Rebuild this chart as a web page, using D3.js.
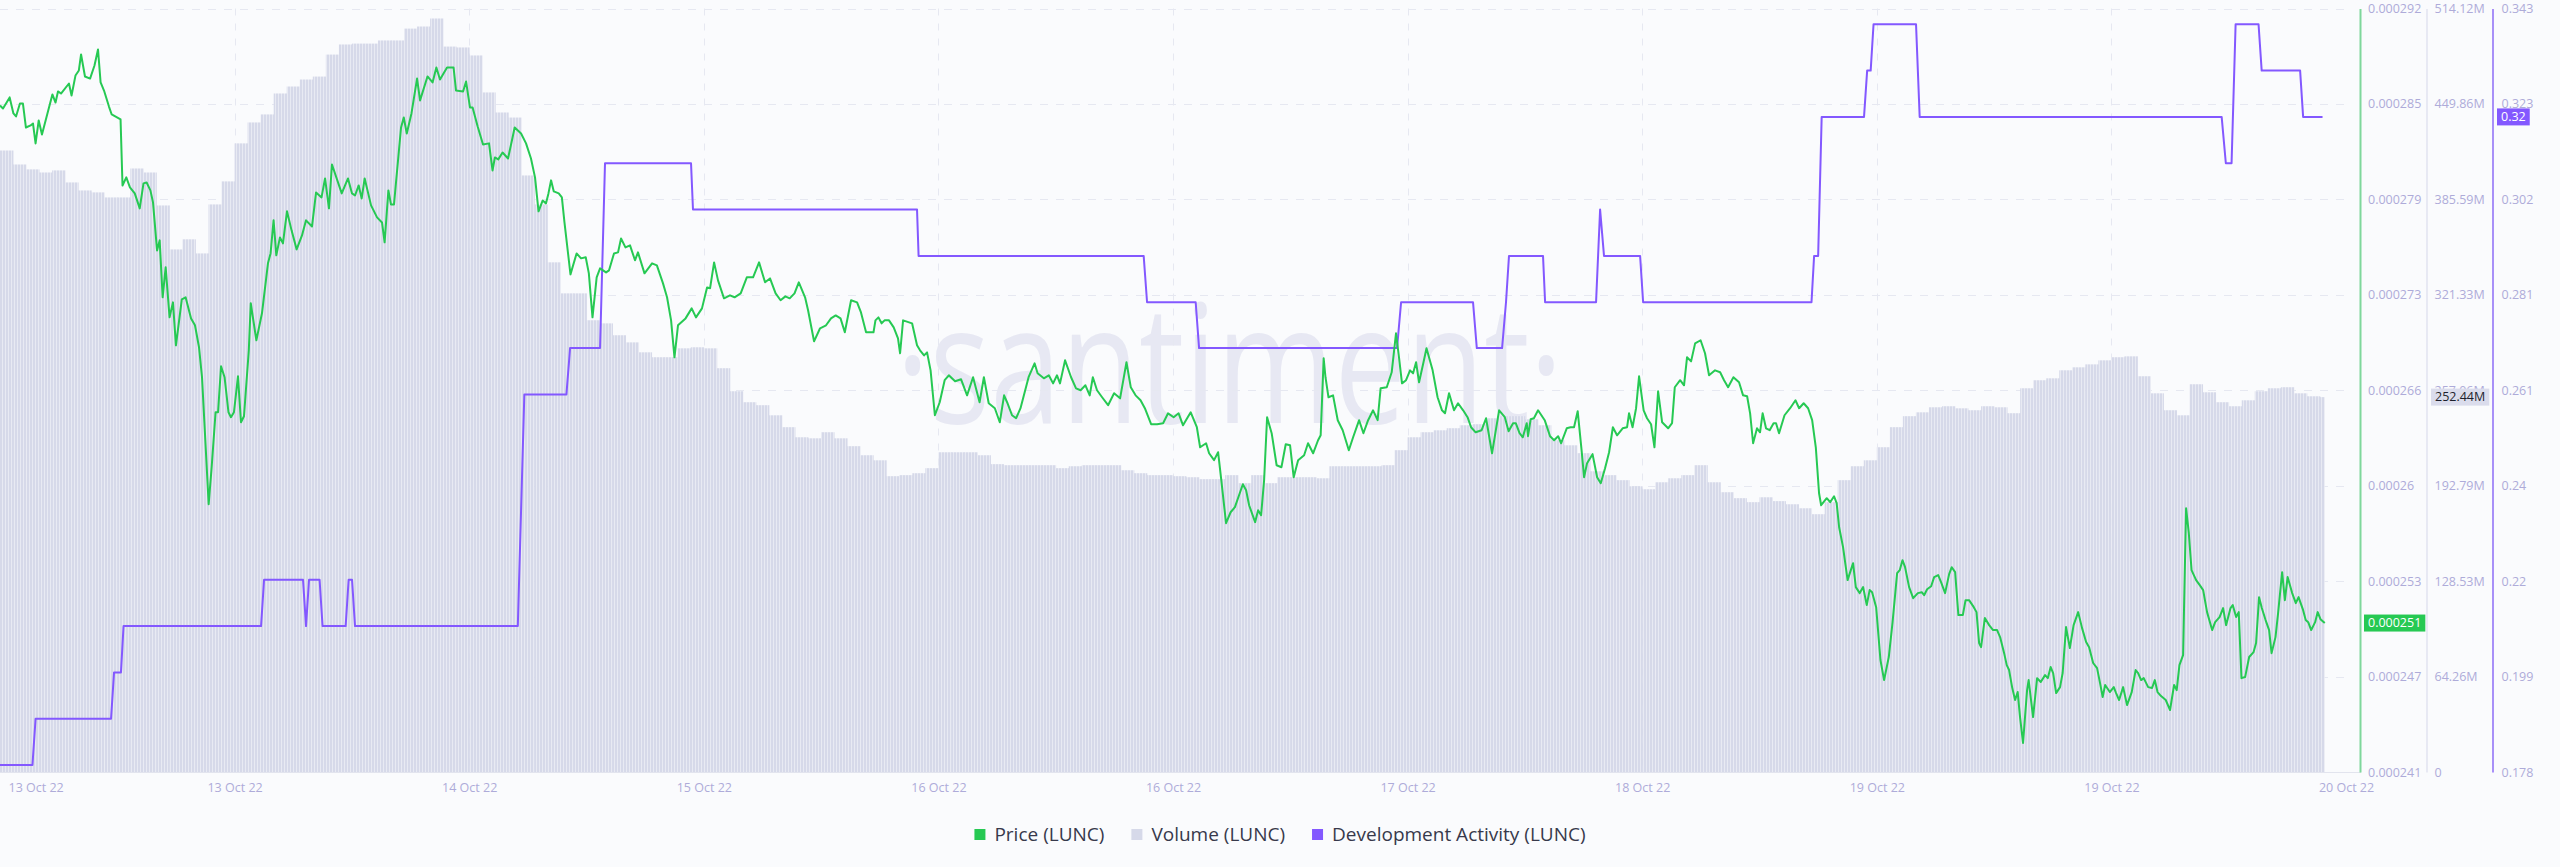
<!DOCTYPE html>
<html>
<head>
<meta charset="utf-8">
<script src="https://cdn.jsdelivr.net/npm/d3@7/dist/d3.min.js"></script>
<style>
  html, body { margin: 0; padding: 0; background: #fafbfd; }
  svg { display: block; }
</style>
</head>
<body>
<svg id="chart" width="2560" height="867"></svg>
<script>
// ---------------- DATA ----------------
// time is expressed in hours since 13 Oct 2022 00:00
const xTickHours  = [0, 18, 36, 54, 72, 90, 108, 126, 144, 162, 180];
const xTickLabels = ["13 Oct 22","13 Oct 22","14 Oct 22","15 Oct 22","16 Oct 22","16 Oct 22","17 Oct 22","18 Oct 22","19 Oct 22","19 Oct 22","20 Oct 22"];

const priceTickLabels  = ["0.000241","0.000247","0.000253","0.00026","0.000266","0.000273","0.000279","0.000285","0.000292"];
const volumeTickLabels = ["0","64.26M","128.53M","192.79M","257.06M","321.33M","385.59M","449.86M","514.12M"];
const devTickLabels    = ["0.178","0.199","0.22","0.24","0.261","0.281","0.302","0.323","0.343"];

const legendLabels = ["Price (LUNC)", "Volume (LUNC)", "Development Activity (LUNC)"];
const lastLabels = { price: "0.000251", volume: "252.44M", dev: "0.32" };

// Volume (LUNC), millions, hourly from hour 0
const volumeStartHour = 0, volumeStepHours = 1;
const volumeMillions = [
418.5,409.1,405.8,403.7,405.1,397.0,391.6,390.3,386.9,386.9,
406.4,403.7,381.5,351.9,358.7,349.2,382.2,397.7,423.3,437.4,
442.8,456.9,461.6,466.3,468.3,483.1,489.9,490.5,490.5,492.6,
492.6,500.6,502.0,507.4,488.5,487.9,482.5,457.6,444.1,440.7,
401.7,382.2,343.2,322.3,322.3,304.2,302.1,294.1,289.3,282.6,
279.3,279.3,285.3,286.0,285.3,271.9,256.4,249.0,247.0,240.2,
232.2,225.4,224.7,228.8,224.7,219.4,213.3,209.9,199.2,199.9,
201.2,204.6,215.3,215.3,215.3,213.3,207.3,206.6,206.6,206.6,
206.6,204.6,205.9,206.6,206.6,206.6,203.2,201.2,199.9,199.9,
199.2,198.5,197.2,197.2,199.9,194.5,199.9,194.5,198.5,198.5,
198.5,197.8,205.9,205.9,205.9,205.9,206.6,216.7,225.4,228.8,
230.1,231.5,233.5,234.2,238.2,239.6,239.6,237.5,233.5,223.4,
220.0,214.7,202.5,199.9,196.5,192.4,190.4,195.1,197.8,199.9,
206.6,195.1,188.4,184.4,181.7,185.0,182.4,180.3,177.6,173.6,
181.7,196.5,205.9,209.9,218.7,232.2,239.6,242.2,245.6,246.3,
244.9,243.6,246.3,245.6,241.6,258.4,263.8,265.1,270.5,272.5,
274.5,277.2,279.3,279.9,266.5,255.0,243.6,240.2,261.1,255.7,
249.0,246.3,250.3,256.4,258.4,259.1,255.0,253.0,252.44
];

// Development Activity (LUNC): [hour, value]
const devPoints = [
[0,0.1799],[2.49,0.1799],[2.73,0.1899],[8.52,0.1899],[8.75,0.1999],[9.28,0.1999],[9.48,0.2099],
[20.03,0.2099],[20.26,0.2199],[23.25,0.2199],[23.48,0.2099],[23.71,0.2199],[24.52,0.2199],[24.75,0.2099],
[26.52,0.2099],[26.75,0.2199],[27.01,0.2199],[27.24,0.2099],[39.73,0.2099],[40.23,0.2599],[43.46,0.2599],
[43.74,0.2699],[46.04,0.2699],[46.42,0.3098],[53.02,0.3098],[53.17,0.2998],[70.36,0.2998],[70.48,0.2898],
[87.75,0.2898],[88.01,0.2798],[91.74,0.2798],[92.00,0.2699],[107.19,0.2699],[107.50,0.2798],[113.02,0.2798],
[113.31,0.2699],[115.25,0.2699],[115.55,0.2798],[115.78,0.2898],[118.39,0.2898],[118.55,0.2798],[122.46,0.2798],
[122.77,0.2998],[123.07,0.2898],[125.84,0.2898],[126.07,0.2798],[138.99,0.2798],[139.19,0.2898],[139.50,0.2898],
[139.77,0.3198],[143.02,0.3198],[143.26,0.3298],[143.53,0.3298],[143.75,0.3398],[147.01,0.3398],[147.29,0.3198],
[170.46,0.3198],[170.78,0.3098],[171.22,0.3098],[171.53,0.3398],[173.29,0.3398],[173.53,0.3298],[176.48,0.3298],
[176.71,0.3198],[178.20,0.3198]
];

// Price (LUNC): [hour, price in millionths of USD]
const pricePoints = [
[0,285.22],[0.23,285.02],[0.74,285.76],[1.03,284.69],[1.23,284.49],[1.53,285.35],[1.76,285.35],[1.99,283.75],
[2.35,283.89],[2.53,284.02],[2.73,282.69],[2.97,284.22],[3.22,283.29],[4.02,285.96],[4.26,285.42],[4.45,286.16],
[4.68,286.02],[5.29,286.69],[5.49,285.89],[5.79,287.22],[6.05,287.56],[6.22,288.63],[6.52,287.16],[6.91,287.02],
[7.25,287.89],[7.52,288.96],[7.72,286.76],[7.98,286.22],[8.36,285.15],[8.57,284.62],[9.25,284.29],[9.40,279.88],
[9.69,280.42],[9.97,279.75],[10.34,279.35],[10.72,278.35],[11.01,280.02],[11.25,280.08],[11.54,279.55],[11.74,278.75],
[12.05,275.54],[12.25,276.21],[12.48,272.41],[12.71,274.41],[13.01,271.07],[13.27,272.07],[13.50,269.20],[13.95,272.27],
[14.24,272.41],[14.66,271.00],[14.96,270.54],[15.27,269.07],[15.50,267.07],[16.01,258.59],[16.24,261.06],[16.54,264.73],
[16.73,264.73],[16.96,267.80],[17.23,267.07],[17.53,264.73],[17.72,264.40],[17.95,264.73],[18.26,267.13],[18.49,264.06],
[18.72,264.46],[19.09,268.87],[19.24,272.01],[19.67,269.54],[20.10,271.34],[20.56,274.68],[20.76,275.34],[20.99,277.55],
[21.20,275.21],[21.48,276.41],[21.71,276.01],[22.02,278.15],[22.37,276.88],[22.76,275.61],[23.17,276.54],[23.48,277.55],
[23.94,277.14],[24.25,279.41],[24.67,279.08],[24.94,280.35],[25.24,278.35],[25.47,281.28],[26.22,279.35],[26.70,280.35],
[27.01,279.35],[27.24,279.21],[27.52,279.88],[27.75,279.01],[27.98,280.35],[28.47,278.55],[28.93,277.75],[29.31,277.41],
[29.51,276.08],[29.80,279.55],[30.00,278.61],[30.23,278.61],[30.77,283.75],[30.98,284.42],[31.21,283.35],[31.57,284.69],
[32.00,287.02],[32.23,285.56],[32.80,287.16],[33.19,286.76],[33.48,287.76],[33.76,286.96],[34.30,287.76],[34.80,287.76],
[34.99,286.22],[35.53,286.16],[35.76,286.82],[36.06,285.09],[36.26,285.09],[36.65,283.82],[37.06,282.62],[37.52,282.69],
[37.79,280.88],[37.97,281.75],[38.23,281.62],[38.56,282.08],[38.98,281.68],[39.49,283.75],[39.98,283.35],[40.36,282.69],
[40.74,281.68],[41.05,280.42],[41.32,278.15],[41.64,278.88],[41.89,278.68],[42.08,279.35],[42.28,280.22],[42.49,279.48],
[42.87,279.35],[43.11,279.08],[43.31,277.41],[43.77,273.94],[44.24,275.34],[44.58,275.01],[44.94,275.08],[45.18,274.01],
[45.46,271.07],[45.78,273.74],[46.04,274.34],[46.50,274.07],[46.73,274.21],[47.11,275.34],[47.42,275.41],[47.65,276.34],
[47.99,275.74],[48.34,275.88],[48.72,274.88],[48.95,275.41],[49.45,274.01],[50.03,274.68],[50.40,274.54],[50.87,273.34],
[51.18,272.41],[51.49,270.87],[51.75,268.40],[52.02,270.54],[52.60,271.00],[53.07,271.67],[53.40,271.07],[53.86,271.67],
[54.25,273.07],[54.48,273.01],[54.79,274.74],[55.09,273.54],[55.55,272.34],[56.01,272.54],[56.36,272.41],[56.83,272.67],
[57.30,273.74],[57.78,273.74],[58.24,274.74],[58.70,273.41],[59.08,273.67],[59.51,272.67],[59.89,272.21],[60.26,272.47],
[60.59,272.34],[60.96,272.67],[61.29,273.41],[61.77,272.41],[62.00,271.54],[62.46,269.47],[62.92,270.34],[63.38,270.54],
[63.76,271.00],[64.12,271.20],[64.49,271.00],[64.82,270.07],[65.30,272.21],[65.76,272.07],[66.06,271.40],[66.45,270.07],
[67.02,270.07],[67.17,270.87],[67.40,271.07],[67.64,270.67],[67.87,270.87],[68.21,270.87],[68.57,270.40],[68.90,269.67],
[69.06,268.67],[69.29,270.87],[69.98,270.67],[70.36,269.20],[70.59,268.87],[70.90,268.53],[71.13,268.73],[71.40,267.53],
[71.73,264.53],[72.10,265.40],[72.48,266.87],[72.80,267.20],[73.28,266.80],[73.74,266.93],[74.20,265.86],[74.66,267.07],
[75.16,265.40],[75.49,267.07],[75.86,265.33],[76.33,265.00],[76.71,264.06],[77.04,265.86],[77.27,265.40],[77.65,264.53],
[77.96,264.33],[78.30,265.00],[78.92,267.07],[79.38,268.00],[79.61,267.33],[80.09,267.00],[80.47,267.20],[80.80,266.66],
[81.10,267.20],[81.33,266.66],[81.72,268.20],[82.18,267.07],[82.56,266.33],[82.91,266.20],[83.28,266.53],[83.61,265.86],
[83.85,267.07],[84.17,266.20],[84.56,265.73],[85.02,265.20],[85.48,266.00],[85.94,265.66],[86.43,268.07],[86.76,266.40],
[87.13,265.86],[87.51,265.53],[87.84,265.00],[88.32,263.93],[88.78,263.93],[89.24,264.00],[89.62,264.66],[90.05,264.40],
[90.43,264.66],[90.77,263.86],[91.13,264.40],[91.36,264.73],[91.83,263.73],[92.08,262.39],[92.54,262.66],[92.77,261.99],
[93.15,261.53],[93.46,262.06],[93.69,260.32],[94.07,257.32],[94.42,258.05],[94.75,258.39],[95.12,259.32],[95.36,259.92],
[95.61,259.52],[95.84,258.52],[96.30,257.39],[96.53,258.19],[96.76,257.85],[96.99,260.19],[97.22,264.40],[97.57,263.33],
[97.95,261.19],[98.32,261.06],[98.65,262.59],[98.98,262.53],[99.26,260.39],[99.60,261.53],[100.06,261.86],[100.36,262.66],
[100.75,261.99],[101.13,262.86],[101.33,263.19],[101.56,268.33],[101.70,267.07],[101.93,265.73],[102.28,265.86],[102.64,264.20],
[103.02,263.53],[103.49,262.19],[103.82,263.06],[104.28,264.20],[104.61,263.33],[104.97,264.20],[105.35,264.86],[105.70,264.20],
[105.93,266.33],[106.40,266.40],[106.78,267.40],[107.11,270.00],[107.34,268.40],[107.57,266.66],[107.88,266.87],[108.19,267.53],
[108.42,267.33],[108.65,268.07],[108.88,266.73],[109.22,268.07],[109.45,269.00],[109.92,267.53],[110.30,265.73],[110.64,264.86],
[110.87,264.66],[111.18,266.00],[111.56,264.86],[111.87,265.33],[112.26,264.86],[112.60,264.40],[112.87,263.73],[113.22,263.39],
[113.68,263.53],[114.02,264.33],[114.48,261.99],[115.02,264.86],[115.46,264.40],[115.75,263.46],[116.09,264.00],[116.30,264.00],
[116.59,263.33],[116.84,263.06],[117.14,264.00],[117.24,263.13],[117.44,264.26],[117.69,264.33],[118.01,264.86],[118.52,264.20],
[118.93,263.13],[119.24,262.86],[119.55,263.13],[119.78,262.66],[120.21,263.66],[120.50,263.73],[120.77,263.73],[121.05,264.80],
[121.35,262.19],[121.54,260.39],[121.77,261.33],[122.19,261.93],[122.54,260.39],[122.82,259.99],[123.15,260.99],[123.46,262.06],
[123.75,263.73],[124.07,263.19],[124.50,263.66],[124.84,263.73],[124.99,264.66],[125.26,263.73],[125.53,265.00],[125.76,267.13],
[126.11,264.86],[126.37,264.33],[126.68,263.93],[126.94,262.39],[127.22,266.13],[127.53,264.06],[127.99,263.66],[128.29,264.00],
[128.50,266.40],[128.91,266.87],[129.21,266.53],[129.44,268.40],[129.75,268.13],[130.06,269.33],[130.48,269.54],[130.82,268.67],
[131.13,267.20],[131.59,267.53],[131.98,267.40],[132.28,266.87],[132.59,266.40],[133.00,267.07],[133.43,266.73],[133.74,265.86],
[134.05,265.80],[134.28,264.66],[134.51,262.66],[134.81,263.66],[135.04,263.39],[135.24,264.66],[135.50,263.66],[135.78,263.53],
[136.08,264.00],[136.27,264.00],[136.50,263.33],[136.92,264.53],[137.35,265.00],[137.76,265.53],[138.04,265.00],[138.39,265.33],
[138.73,265.00],[139.04,264.20],[139.32,262.39],[139.57,259.32],[139.73,258.52],[140.16,258.99],[140.42,258.72],[140.72,259.12],
[140.92,258.66],[141.11,257.05],[141.41,255.72],[141.76,253.52],[142.18,254.65],[142.39,253.05],[142.69,252.65],[142.95,253.05],
[143.23,251.85],[143.45,252.85],[143.64,252.71],[143.95,251.71],[144.28,248.18],[144.56,246.84],[144.92,248.38],[145.21,250.71],
[145.56,253.98],[145.76,254.18],[145.97,254.85],[146.17,254.38],[146.48,253.05],[146.79,252.31],[147.15,252.65],[147.45,252.71],
[147.63,252.51],[147.86,252.91],[148.17,253.11],[148.40,253.72],[148.71,253.85],[148.93,253.38],[149.24,252.65],[149.55,253.92],
[149.75,254.38],[150.01,254.05],[150.26,251.18],[150.60,251.18],[150.81,252.18],[151.08,252.18],[151.44,251.71],[151.65,251.38],
[151.85,249.31],[152.00,249.04],[152.29,250.98],[152.62,250.51],[152.92,250.18],[153.23,250.18],[153.46,249.71],[153.77,248.64],
[153.97,247.84],[154.15,247.51],[154.38,246.37],[154.61,245.51],[154.81,246.04],[154.99,244.37],[155.22,242.64],[155.53,246.17],
[155.65,246.84],[155.99,244.37],[156.30,246.97],[156.58,246.71],[156.91,247.17],[157.12,246.97],[157.34,247.71],[157.53,247.31],
[157.76,245.97],[158.06,246.37],[158.26,247.31],[158.52,250.38],[158.81,248.98],[159.10,250.51],[159.45,251.38],[159.75,250.31],
[160.06,249.38],[160.29,249.04],[160.60,247.98],[160.90,247.64],[161.13,246.64],[161.33,245.71],[161.52,246.51],[161.88,246.04],
[162.18,246.37],[162.36,245.97],[162.59,245.51],[162.90,246.37],[163.20,245.17],[163.56,246.04],[163.86,247.51],[164.05,247.31],
[164.28,246.84],[164.48,246.97],[164.82,246.37],[165.12,246.31],[165.33,246.84],[165.54,246.04],[165.81,245.77],[166.17,245.51],
[166.50,244.84],[166.81,246.51],[167.01,246.17],[167.22,247.84],[167.50,248.51],[167.73,258.32],[167.94,256.65],[168.15,254.18],
[168.50,253.52],[168.78,253.18],[169.04,252.85],[169.34,251.38],[169.73,250.18],[169.96,250.71],[170.30,251.05],[170.57,251.65],
[170.80,250.51],[171.14,251.65],[171.31,251.85],[171.57,251.05],[171.77,251.38],[171.98,246.97],[172.26,247.04],[172.57,248.38],
[172.91,248.71],[173.10,249.31],[173.33,252.38],[173.54,251.65],[173.83,250.85],[174.10,250.18],[174.29,248.64],[174.59,249.71],
[174.79,251.31],[175.10,254.05],[175.31,252.18],[175.52,253.72],[175.87,252.65],[176.15,251.98],[176.36,252.38],[176.71,251.51],
[176.91,250.85],[177.10,250.71],[177.33,250.18],[177.63,250.71],[177.83,251.38],[178.04,250.91],[178.37,250.65]
];

// ---------------- STYLE ----------------
const W = 2560, H = 867;
const plotTop = 8.5, plotBottom = 772;
const FONT = "'Open Sans', 'Liberation Sans', Arial, sans-serif";
const C = {
  bg: "#fafbfd", grid: "#e6e8f1", axisText: "#aeabd9",
  price: "#26c953", priceAxis: "#7fd79c",
  vol: "#d6d9e9", volGap: "#e8eaf3", volAxis: "#d5d7ea", volBox: "#dadcec",
  dev: "#8358ff", devAxis: "#8c6cf6",
  watermark: "#e7e8f3", legendText: "#37394b"
};

// ---------------- SCALES ----------------
const x = d3.scaleLinear().domain([0, 180]).range([0, 2346]);
const yPrice = d3.scaleLinear().domain([240.7, 291.7]).range([plotBottom, plotTop]);
const yVol   = d3.scaleLinear().domain([0, 514.12]).range([plotBottom, plotTop]);
const yDev   = d3.scaleLinear().domain([0.1784, 0.3432]).range([plotBottom, plotTop]);
const evenTicks = (s) => { const [a, b] = s.domain(); return d3.range(9).map(k => a + k * (b - a) / 8); };

const svg = d3.select("#chart");
svg.append("rect").attr("width", W).attr("height", H).attr("fill", C.bg);

const defs = svg.append("defs");
const pat = defs.append("pattern").attr("id", "volPat").attr("patternUnits", "userSpaceOnUse")
  .attr("width", 3).attr("height", 8);
pat.append("rect").attr("width", 3).attr("height", 8).attr("fill", C.volGap);
pat.append("rect").attr("width", 2).attr("height", 8).attr("fill", C.vol);
const lastHour = pricePoints[pricePoints.length - 1][0];
defs.append("clipPath").attr("id", "dataClip").append("rect")
  .attr("x", 0).attr("y", 0).attr("width", x(lastHour)).attr("height", H);

// watermark
svg.append("text").attr("x", 896).attr("y", 423)
  .attr("font-family", FONT).attr("font-size", 164)
  .attr("textLength", 667).attr("lengthAdjust", "spacingAndGlyphs")
  .attr("fill", C.watermark).text("·santiment·");

// grid
const grid = svg.append("g").attr("stroke", C.grid).attr("stroke-width", 1);
grid.selectAll("line.h").data(evenTicks(yPrice)).join("line").attr("class", "h")
  .attr("x1", 0).attr("x2", 2345)
  .attr("y1", d => Math.round(yPrice(d)) + 0.5).attr("y2", d => Math.round(yPrice(d)) + 0.5)
  .attr("stroke-dasharray", "8,8");
grid.selectAll("line.v").data(xTickHours.slice(1, 10)).join("line").attr("class", "v")
  .attr("x1", d => Math.round(x(d)) + 0.5).attr("x2", d => Math.round(x(d)) + 0.5)
  .attr("y1", plotTop).attr("y2", plotBottom)
  .attr("stroke-dasharray", "7,8");

// volume bars
svg.append("g").attr("clip-path", "url(#dataClip)")
  .selectAll("rect").data(volumeMillions).join("rect")
  .attr("x", (d, i) => x(volumeStartHour + i * volumeStepHours))
  .attr("width", x(volumeStepHours) - x(0) + 0.4)
  .attr("y", d => yVol(d))
  .attr("height", d => yVol(0) - yVol(d))
  .attr("fill", "url(#volPat)");

// baseline
svg.append("line").attr("x1", 0).attr("x2", 2361).attr("y1", plotBottom + 0.5).attr("y2", plotBottom + 0.5)
  .attr("stroke", "#e2e4ee");

// development activity
svg.append("path").datum(devPoints)
  .attr("d", d3.line().x(d => x(d[0])).y(d => yDev(d[1])))
  .attr("fill", "none").attr("stroke", C.dev).attr("stroke-width", 2).attr("stroke-linejoin", "round");

// price
svg.append("path").datum(pricePoints)
  .attr("d", d3.line().x(d => x(d[0])).y(d => yPrice(d[1])))
  .attr("fill", "none").attr("stroke", C.price).attr("stroke-width", 2).attr("stroke-linejoin", "round");

// axes
function styleAxis(g, lineColor, lineWidth) {
  g.attr("font-family", FONT).attr("font-size", 12.5);
  g.select(".domain").attr("stroke", lineColor).attr("stroke-width", lineWidth);
  g.selectAll(".tick line").remove();
  g.selectAll(".tick text").attr("fill", C.axisText);
}
svg.append("g").attr("transform", "translate(2360,0)")
  .call(d3.axisRight(yPrice).tickValues(evenTicks(yPrice)).tickFormat((d, i) => priceTickLabels[i])
    .tickSize(0).tickSizeOuter(0).tickPadding(8))
  .call(g => styleAxis(g, C.priceAxis, 2));
svg.append("g").attr("transform", "translate(2426.5,0)")
  .call(d3.axisRight(yVol).tickValues(evenTicks(yVol)).tickFormat((d, i) => volumeTickLabels[i])
    .tickSize(0).tickSizeOuter(0).tickPadding(8))
  .call(g => styleAxis(g, C.volAxis, 1));
svg.append("g").attr("transform", "translate(2492.5,0)")
  .call(d3.axisRight(yDev).tickValues(evenTicks(yDev)).tickFormat((d, i) => devTickLabels[i])
    .tickSize(0).tickSizeOuter(0).tickPadding(9))
  .call(g => styleAxis(g, C.devAxis, 1.5));

const xAxisG = svg.append("g").attr("transform", `translate(0,${plotBottom})`)
  .call(d3.axisBottom(x).tickValues(xTickHours).tickFormat((d, i) => xTickLabels[i])
    .tickSize(0).tickPadding(11));
xAxisG.attr("font-family", FONT).attr("font-size", 12.5);
xAxisG.select(".domain").remove();
xAxisG.selectAll(".tick text").attr("fill", C.axisText);
xAxisG.select(".tick text").attr("text-anchor", "start").attr("x", 8);

// last-value badges
function badge(xLeft, yCenter, label, fill, color) {
  const g = svg.append("g");
  const t = g.append("text").attr("x", xLeft + 4).attr("y", yCenter).attr("dy", "0.35em")
    .attr("font-family", FONT).attr("font-size", 12.5).attr("fill", color).text(label);
  const w = t.node().getComputedTextLength();
  g.insert("rect", "text").attr("x", xLeft).attr("y", yCenter - 8.5)
    .attr("width", w + 8).attr("height", 17).attr("fill", fill);
}
badge(2364, yPrice(pricePoints[pricePoints.length - 1][1]), lastLabels.price, C.price, "#ffffff");
badge(2431, yVol(volumeMillions[volumeMillions.length - 1]), lastLabels.volume, C.volBox, "#1d1f2c");
badge(2497, yDev(devPoints[devPoints.length - 1][1]), lastLabels.dev, C.dev, "#ffffff");

// legend
const legendColors = [C.price, C.vol, C.dev];
const lg = svg.append("g");
const items = legendLabels.map((lab, i) => {
  const g = lg.append("g");
  g.append("rect").attr("width", 11).attr("height", 11).attr("y", -5.5).attr("fill", legendColors[i]);
  const t = g.append("text").attr("x", 20).attr("dy", "0.35em")
    .attr("font-family", FONT).attr("font-size", 19).attr("fill", C.legendText).text(lab);
  return { g, w: 20 + t.node().getComputedTextLength() };
});
const gap = 27;
const total = d3.sum(items, d => d.w) + gap * (items.length - 1);
let cx = 1280 - total / 2;
items.forEach(it => { it.g.attr("transform", `translate(${cx},834.5)`); cx += it.w + gap; });
</script>
</body>
</html>
